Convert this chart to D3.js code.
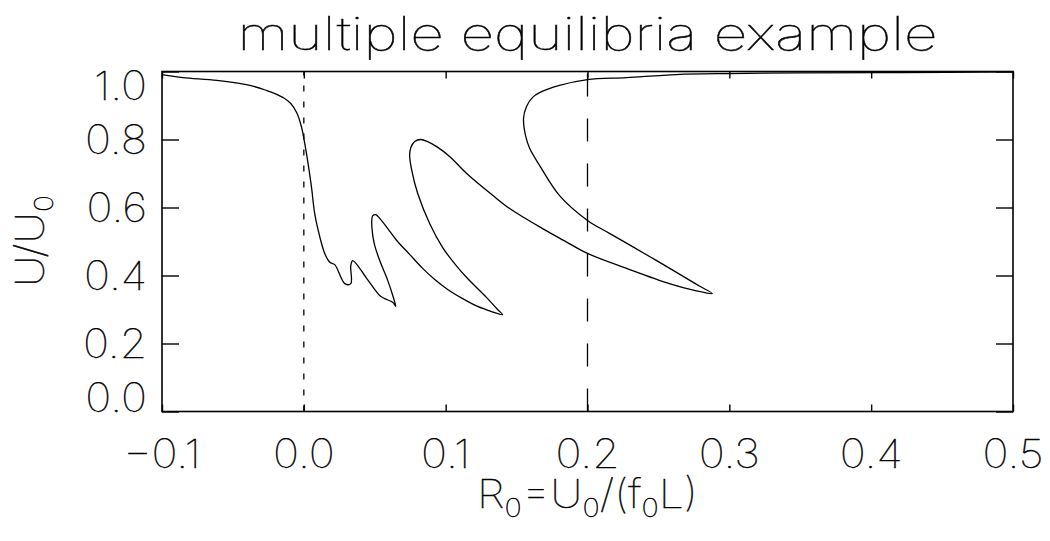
<!DOCTYPE html>
<html>
<head>
<meta charset="utf-8">
<script src="https://cdn.jsdelivr.net/npm/d3@7"></script>
<style>
  html, body { margin: 0; padding: 0; background: #fff; }
  svg { display: block; }
  text { font-family: "Inter", "DejaVu Sans", sans-serif; font-weight: 100; fill: #000;
         stroke: #000; stroke-width: 0.45px; }
</style>
</head>
<body>
<svg id="chart" width="1050" height="541"></svg>
<script>
// Axis ticks
const xTicks = [-0.1, 0.0, 0.1, 0.2, 0.3, 0.4, 0.5];
const yTicks = [0.0, 0.2, 0.4, 0.6, 0.8, 1.0];

// Reference Rossby numbers marked with vertical lines
const dottedAt = 0.0;
const dashedAt = 0.2;

// Equilibrium branch: Rossby number R0 and normalised velocity U/U0, in path order
const curveR0 = [
  -0.1000, -0.0852, -0.0613, -0.0380, -0.0261, -0.0204, -0.0141, -0.0092, -0.0049, -0.0016, 0.0007,
   0.0030,  0.0054,  0.0077,  0.0113,  0.0148,  0.0183,  0.0218,  0.0289,  0.0331,
   0.0331,  0.0345,  0.0444,  0.0535,  0.0570,  0.0627,  0.0648,
   0.0627,  0.0592,  0.0535,  0.0500,  0.0486,  0.0479,  0.0486,  0.0507,  0.0535, 0.0592,
   0.0655,  0.0746,  0.0838,  0.0923,  0.1014,  0.1120,  0.1225,  0.1324,  0.1401,
   0.1366,  0.1289,  0.1148,  0.1063,  0.0979,  0.0887,  0.0803,  0.0761,  0.0746, 0.0754,
   0.0782,  0.0824,  0.0873,  0.0937,  0.1028,  0.1148,  0.1331,  0.1451,  0.1683,
   0.1838,  0.2000,  0.2275,  0.2577,  0.2754,  0.2880,
   0.2789,  0.2669,  0.2437,  0.2155,  0.2000,  0.1803,  0.1662,  0.1592,  0.1563, 0.1549,
   0.1570,  0.1613,  0.1662,  0.1803,  0.2000,  0.2275,  0.2627,  0.3000,  0.3493, 0.4197,
   0.5000
];
const curveU = [
   0.991, 0.982, 0.974, 0.959, 0.944, 0.935, 0.922, 0.906, 0.878, 0.836, 0.787,
   0.729, 0.660, 0.581, 0.513, 0.464, 0.439, 0.432, 0.376, 0.376,
   0.429, 0.444, 0.391, 0.341, 0.332, 0.321, 0.309,
   0.341, 0.385, 0.444, 0.488, 0.518, 0.562, 0.576, 0.579, 0.568, 0.538,
   0.503, 0.462, 0.421, 0.388, 0.359, 0.332, 0.309, 0.294, 0.285,
   0.300, 0.335, 0.394, 0.435, 0.482, 0.553, 0.641, 0.709, 0.753, 0.776,
   0.794, 0.800, 0.794, 0.779, 0.750, 0.700, 0.636, 0.597, 0.538,
   0.502, 0.465, 0.421, 0.376, 0.356, 0.347,
   0.369, 0.399, 0.456, 0.524, 0.562, 0.635, 0.724, 0.774, 0.812, 0.862,
   0.897, 0.924, 0.938, 0.959, 0.976, 0.982, 0.991, 0.994, 0.996, 0.997,
   0.999
];

const svg = d3.select("#chart");
const plot = { left: 162, right: 1013, top: 71.5, bottom: 411.5 };

const x = d3.scaleLinear().domain([-0.1, 0.5]).range([plot.left, plot.right]);
const y = d3.scaleLinear().domain([0.0, 1.0]).range([plot.bottom, plot.top]);
const fmt = d3.format(".1f");
const widen = 1.1; // horizontal stretch for the stroked lettering

// Title
svg.append("text")
  .attr("x", (plot.left + plot.right) / 2)
  .attr("y", 50)
  .attr("text-anchor", "middle")
  .attr("font-size", 46)
  .attr("textLength", 700)
  .attr("lengthAdjust", "spacingAndGlyphs")
  .text("multiple equilibria example");

// Reference lines (drawn bottom-up so the pattern starts at the axis)
svg.append("line")
  .attr("x1", x(dottedAt)).attr("x2", x(dottedAt))
  .attr("y1", plot.bottom).attr("y2", plot.top)
  .attr("stroke", "#000").attr("stroke-width", 1.3)
  .attr("stroke-dasharray", "6,10");
svg.append("line")
  .attr("x1", x(dashedAt)).attr("x2", x(dashedAt))
  .attr("y1", plot.bottom).attr("y2", plot.top)
  .attr("stroke", "#000").attr("stroke-width", 1.3)
  .attr("stroke-dasharray", "23,22");

// Equilibrium curve
const pts = curveR0.map((r, i) => [r, curveU[i]]);
const line = d3.line()
  .x(d => x(d[0]))
  .y(d => y(d[1]))
  .curve(d3.curveCatmullRom.alpha(0.5));
svg.append("path")
  .attr("d", line(pts))
  .attr("fill", "none")
  .attr("stroke", "#000")
  .attr("stroke-width", 1.3)
  .attr("stroke-linejoin", "round");

// Axes: ticks inward on all four sides
const xLen = 7, yLen = 17;
const axisStyle = g => {
  g.select(".domain").remove();
  g.selectAll(".tick line").attr("stroke", "#000").attr("stroke-width", 1.4);
  g.selectAll(".tick text").remove();
};
svg.append("g").attr("transform", `translate(0,${plot.bottom})`)
  .call(d3.axisBottom(x).tickValues(xTicks).tickSizeInner(-xLen).tickSizeOuter(0)).call(axisStyle);
svg.append("g").attr("transform", `translate(0,${plot.top})`)
  .call(d3.axisTop(x).tickValues(xTicks).tickSizeInner(-xLen).tickSizeOuter(0)).call(axisStyle);
svg.append("g").attr("transform", `translate(${plot.left},0)`)
  .call(d3.axisLeft(y).tickValues(yTicks).tickSizeInner(-yLen).tickSizeOuter(0)).call(axisStyle);
svg.append("g").attr("transform", `translate(${plot.right},0)`)
  .call(d3.axisRight(y).tickValues(yTicks).tickSizeInner(-yLen).tickSizeOuter(0)).call(axisStyle);

// Frame
svg.append("rect")
  .attr("x", plot.left).attr("y", plot.top)
  .attr("width", plot.right - plot.left).attr("height", plot.bottom - plot.top)
  .attr("fill", "none").attr("stroke", "#000").attr("stroke-width", 1.6);

// Tick labels
svg.append("g").selectAll("text").data(xTicks).join("text")
  .attr("transform", d => `translate(${x(d)},468) scale(${widen},1)`)
  .attr("text-anchor", "middle")
  .attr("font-size", 40)
  .text(d => fmt(d));

const labelHalf = 14;
svg.append("g").selectAll("text").data(yTicks).join("text")
  .attr("transform", d => {
    const cy = Math.min(plot.bottom - labelHalf, Math.max(plot.top + labelHalf, y(d)));
    return `translate(147,${cy + labelHalf}) scale(${widen},1)`;
  })
  .attr("text-anchor", "end")
  .attr("font-size", 40)
  .text(d => fmt(d));

// Axis titles with subscripts
const subDrop = 9;
const xTitle = svg.append("text")
  .attr("transform", `translate(${(plot.left + plot.right) / 2},508) scale(1.12,1)`)
  .attr("text-anchor", "middle")
  .attr("font-size", 40);
let lowered = false;
[["R", false], ["0", true], ["=U", false], ["0", true], ["/(f", false], ["0", true], ["L)", false]]
  .forEach(([s, sub]) => {
    const dy = sub ? subDrop : (lowered ? -subDrop : 0);
    xTitle.append("tspan")
      .attr("font-size", sub ? 26 : 40)
      .attr("dy", dy)
      .text(s);
    lowered = sub;
  });

const yTitle = svg.append("text")
  .attr("transform", `translate(44,241) rotate(-90) scale(${widen},1)`)
  .attr("text-anchor", "middle")
  .attr("font-size", 40);
yTitle.append("tspan").text("U/U");
yTitle.append("tspan").attr("font-size", 26).attr("dy", subDrop).text("0");
</script>
</body>
</html>
